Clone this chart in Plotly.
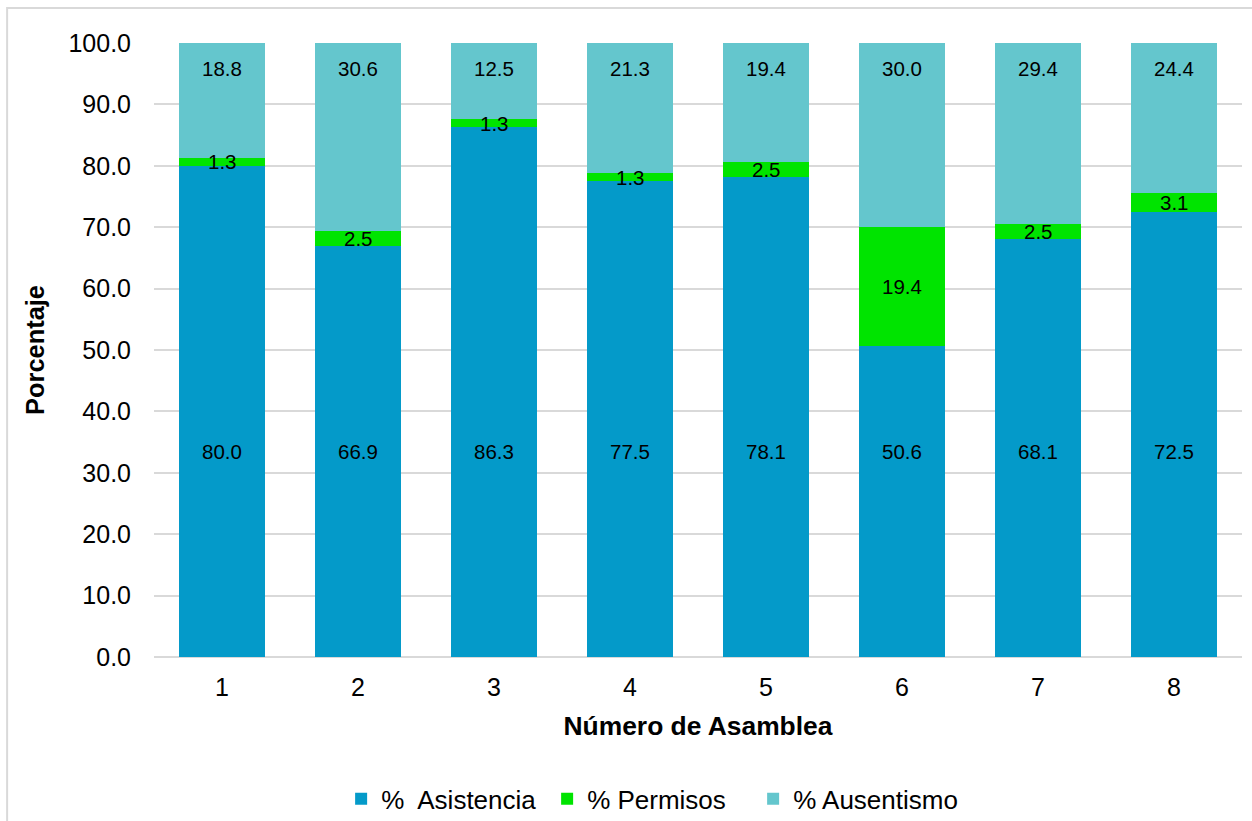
import plotly.graph_objects as go

# Assembly attendance breakdown (percent of members)
asambleas = ["1", "2", "3", "4", "5", "6", "7", "8"]
asistencia = [80.0, 66.9, 86.3, 77.5, 78.1, 50.6, 68.1, 72.5]
permisos = [1.3, 2.5, 1.3, 1.3, 2.5, 19.4, 2.5, 3.1]
ausentismo = [18.8, 30.6, 12.5, 21.3, 19.4, 30.0, 29.4, 24.4]

FONT = "Arial, 'Liberation Sans', sans-serif"
GRID = "#D9D9D9"

series = [
    ("%\u00a0 Asistencia", asistencia, "#049AC9"),
    ("% Permisos", permisos, "#00E400"),
    ("% Ausentismo", ausentismo, "#64C6CD"),
]

fig = go.Figure()
for name, vals, color in series:
    fig.add_trace(go.Bar(
        x=asambleas, y=vals, name=name,
        marker=dict(color=color, line=dict(width=0)),
        hoverinfo="y+name",
    ))

# Value labels: attendance at a common height, permits centred in their
# segment, absenteeism near the top of the stack
label_font = dict(family=FONT, size=20.5, color="#000000")
annotations = []
for i in range(len(asambleas)):
    a, p, u = asistencia[i], permisos[i], ausentismo[i]
    annotations.append(dict(x=i, y=33.4, text=f"{a:.1f}", showarrow=False,
                            font=label_font))
    annotations.append(dict(x=i, y=a + p / 2, text=f"{p:.1f}", showarrow=False,
                            font=label_font))
    annotations.append(dict(x=i, y=95.9, text=f"{u:.1f}", showarrow=False,
                            font=label_font))

fig.update_layout(
    barmode="stack",
    bargap=0.368,
    width=1252, height=821,
    margin=dict(l=154, r=10, t=43, b=164, autoexpand=False),
    paper_bgcolor="#FFFFFF",
    plot_bgcolor="#FFFFFF",
    font=dict(family=FONT, color="#000000"),
    annotations=annotations,
    legend=dict(
        orientation="h", x=0.456, xanchor="center", y=-0.231, yanchor="middle",
        font=dict(family=FONT, size=26, color="#000000"),
        itemwidth=30, traceorder="normal",
        entrywidth=161, entrywidthmode="pixels",
    ),
    shapes=[dict(type="rect", xref="paper", yref="paper",
                 x0=-0.135, x1=1.05, y0=-0.4, y1=1.057,
                 line=dict(color=GRID, width=2), fillcolor="rgba(0,0,0,0)",
                 layer="below")],
)

fig.update_xaxes(
    type="category", automargin=False,
    showgrid=False, showline=False, zeroline=False, ticks="",
    ticklabelstandoff=13,
    tickfont=dict(family=FONT, size=25, color="#000000"),
    title=dict(text="<b>Número de Asamblea</b>", standoff=16,
               font=dict(family=FONT, size=26.4, color="#000000")),
)
fig.update_yaxes(
    range=[0, 100], dtick=10, tickformat=".1f", automargin=False,
    showgrid=True, gridcolor=GRID, gridwidth=1.5,
    zeroline=True, zerolinecolor=GRID, zerolinewidth=1.5,
    showline=False, ticks="", ticklabelstandoff=22,
    tickfont=dict(family=FONT, size=25, color="#000000"),
    title=dict(text="<b>Porcentaje</b>", standoff=16,
               font=dict(family=FONT, size=25.4, color="#000000")),
)

fig.write_html("out.html")
